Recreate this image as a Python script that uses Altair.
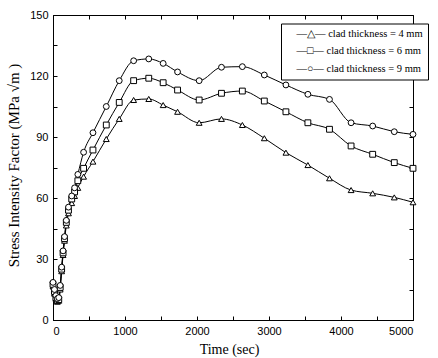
import altair as alt
import pandas as pd

# ---- data ----
TIME_SEC = [0, 20, 40, 60, 80, 100, 120, 140, 160, 185, 215, 260, 300, 345, 425, 555,
            740, 920, 1120, 1330, 1530, 1730, 2030, 2340, 2630, 2935, 3235, 3540, 3840,
            4140, 4440, 4740, 5000]
K_4MM = [16.5, 13, 10.5, 9, 9.5, 15, 24, 32, 39, 46.5, 52.5, 57.5, 61, 65, 70.5, 77.9,
         89, 98.9, 108.2, 108.7, 105.7, 102.4, 97, 98.9, 95.9, 89.4, 82.3, 76.2, 69.7,
         63.9, 62.3, 60.3, 57.9]
K_6MM = [17.5, 14, 11, 9.5, 10, 16, 25, 33, 40, 48, 54, 59.5, 63, 68.5, 74.6, 83.6,
         95.9, 107, 117.7, 118.9, 116.7, 113.1, 108.2, 111.5, 112.6, 107.7, 102.4, 97,
         93.8, 85.6, 81.5, 77.4, 74.6]
K_9MM = [18.5, 15, 12, 10.5, 11, 17, 26, 34, 41, 49, 55.5, 61, 65, 71.6, 82.5, 92.1,
         105, 117.7, 127.5, 128.4, 126.2, 122, 117.7, 124.3, 124.6, 120.5, 115.6, 111,
         108.5, 97, 95.4, 92.6, 91.3]
SERIES = ["4 mm", "6 mm", "9 mm"]
SHAPES = ["triangle-up", "square", "circle"]
X_TICKS = list(range(0, 5001, 500))
Y_TICKS = list(range(0, 151, 15))

rows = []
for name, vals in zip(SERIES, [K_4MM, K_6MM, K_9MM]):
    for t, k in zip(TIME_SEC, vals):
        rows.append({"time": t, "K": k, "clad": name})
df = pd.DataFrame(rows)

W, H = 360, 305

LEGEND_LABEL = (
    "(datum.value == '4 mm' ? '—△—' : (datum.value == '6 mm' ? '—□—' : '—○—'))"
    " + ' clad thickness = ' + datum.label"
)

x_enc = alt.X(
    "time:Q",
    scale=alt.Scale(domain=[0, 5000], nice=False, zero=False),
    axis=alt.Axis(
        values=X_TICKS, format="d",
        labelExpr="datum.value % 1000 == 0 ? datum.label : ''",
        title="Time (sec)", titleX=176, titleY=33, titleBaseline="alphabetic",
        grid=True, gridColor="black", gridWidth=1, gridOpacity=1,
        gridDash=[4, H - 8, 4, 3000],
        labelPadding=5,
    ),
)
y_enc = alt.Y(
    "K:Q",
    scale=alt.Scale(domain=[0, 150], nice=False, zero=False),
    axis=alt.Axis(
        values=Y_TICKS, format="d",
        labelExpr="datum.value % 30 == 0 ? datum.label : ''",
        title="Stress Intensity Factor (MPa √m )",
        titleX=-40, titleY=150, titleAngle=270, titleAlign="center",
        titleBaseline="middle", titleFontSize=15,
        grid=True, gridColor="black", gridWidth=1, gridOpacity=1,
        gridDash=[4, W - 8, 4, 3000],
        labelPadding=5,
    ),
)

base = alt.Chart(df).encode(x=x_enc, y=y_enc)

lines = base.mark_line(interpolate="monotone", color="black", strokeWidth=1).encode(
    detail="clad:N"
)

points = base.mark_point(
    filled=True, fill="white", stroke="black", strokeWidth=1, size=34, opacity=1
).encode(
    shape=alt.Shape(
        "clad:N",
        scale=alt.Scale(domain=SERIES, range=SHAPES),
        legend=alt.Legend(
            title=None, orient="none", legendX=228, legendY=8.5,
            labelExpr=LEGEND_LABEL,
            labelFont="Liberation Serif", labelFontSize=10.5, labelColor="black",
            labelLimit=0,
            symbolOpacity=0, symbolSize=1,
            labelOffset=0, padding=5, rowPadding=6.5,
            strokeColor="black", fillColor="white",
        ),
    ),
)

chart = (
    alt.layer(lines, points)
    .properties(
        width=W, height=H,
        autosize=alt.AutoSizeParams(type="none"),
        padding={"left": 53, "top": 15, "right": 25, "bottom": 38},
        background="white",
    )
    .configure_view(stroke="black", strokeWidth=1)
    .configure_axis(
        domainColor="black", domainWidth=1, ticks=False,
        labelFont="Liberation Sans", labelFontSize=11, labelColor="black",
        titleFont="Liberation Serif", titleFontSize=14, titleFontWeight="normal",
        titleColor="black",
    )
)

chart.save("out.html", embed_options={"renderer": "svg", "actions": False})
